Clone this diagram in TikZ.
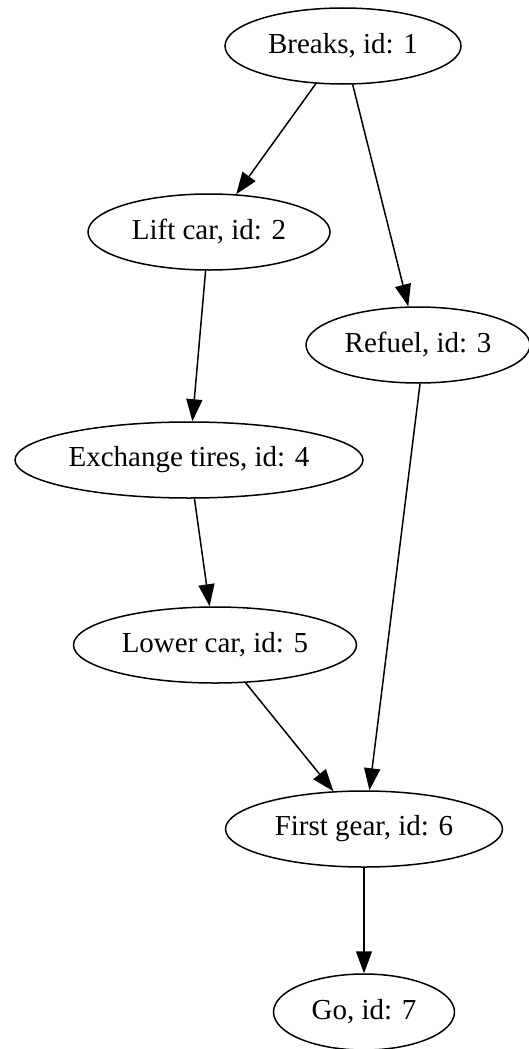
\documentclass[tikz,border=0pt]{standalone}
\usepackage{fontspec}
\setmainfont{Liberation Serif}
\usetikzlibrary{shapes.geometric,arrows.meta}
\begin{document}
\begin{tikzpicture}[x=1pt,y=-1pt,
  task/.style={ellipse,draw,line width=1.5pt,inner sep=0pt,minimum height=76pt,
    font=\fontsize{29}{34}\selectfont},
  dep/.style={draw,line width=1.5pt,-{Triangle[length=22pt,width=16pt]}}]
\useasboundingbox (0,0) rectangle (529,1049);
\node[task,minimum width=236pt] (n1) at (343,46)  {Breaks, id: 1};
\node[task,minimum width=242pt] (n2) at (209,232) {Lift car, id: 2};
\node[task,minimum width=224pt] (n3) at (418,345) {Refuel, id: 3};
\node[task,minimum width=348pt] (n4) at (189,460) {Exchange tires, id: 4};
\node[task,minimum width=283pt] (n5) at (215,645) {Lower car, id: 5};
\node[task,minimum width=277pt] (n6) at (364,829) {First gear, id: 6};
\node[task,minimum width=181pt] (n7) at (364,1012) {Go, id: 7};
\draw[dep] (n1) -- (n2);
\draw[dep] (n1) -- (n3);
\draw[dep] (n2) -- (n4);
\draw[dep] (n3.-87) -- (n6.82);
\draw[dep] (n4) -- (n5);
\draw[dep] (n5) -- (n6);
\draw[dep] (n6) -- (n7);
\end{tikzpicture}
\end{document}
